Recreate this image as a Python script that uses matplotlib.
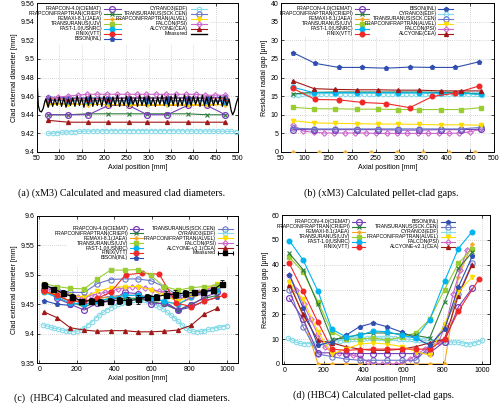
import numpy as np
import matplotlib
matplotlib.use('Agg')
import matplotlib.pyplot as plt
from matplotlib.patches import Rectangle

plt.rcParams['font.family'] = ['Liberation Sans', 'DejaVu Sans']
plt.rcParams['font.size'] = 5

# ---------------- data: (a) xM3 clad diameter ----------------
xa = [75, 120, 165, 210, 255, 297, 342, 387, 430, 472]
a_frapcon = [9.440, 9.440, 9.440, 9.450, 9.450, 9.440, 9.440, 9.450, 9.450, 9.440]
a_criepi = [9.440, 9.440, 9.441, 9.441, 9.441, 9.441, 9.441, 9.441, 9.440, 9.440]
a_femaxi = [9.452, 9.452, 9.451, 9.451, 9.450, 9.450, 9.450, 9.450, 9.450, 9.451]
a_tu_ujv = [9.456, 9.455, 9.455, 9.455, 9.455, 9.455, 9.455, 9.455, 9.455, 9.455]
a_fast = [9.456, 9.455, 9.455, 9.455, 9.455, 9.455, 9.455, 9.455, 9.455, 9.454]
a_finix = [9.457, 9.457, 9.457, 9.457, 9.458, 9.458, 9.458, 9.458, 9.458, 9.458]
a_bison = [9.459, 9.458, 9.458, 9.458, 9.458, 9.458, 9.458, 9.458, 9.458, 9.459]
a_sck = [9.456, 9.456, 9.456, 9.456, 9.456, 9.456, 9.456, 9.456, 9.456, 9.456]
a_alvel = [9.452, 9.452, 9.452, 9.452, 9.452, 9.452, 9.452, 9.452, 9.452, 9.452]
a_alcyone = [9.434, 9.432, 9.432, 9.432, 9.432, 9.432, 9.432, 9.432, 9.432, 9.432]
xa_falcon = [75, 97, 119, 141, 163, 185, 207, 229, 251, 273, 295, 317, 339, 361, 383, 405, 427, 449, 471]
a_falcon = [9.458, 9.459, 9.460, 9.461, 9.462, 9.462, 9.462, 9.462, 9.462, 9.462,
            9.462, 9.462, 9.462, 9.462, 9.462, 9.462, 9.461, 9.461, 9.461]
xa_cyrano = np.arange(75, 500, 10)
a_cyrano = [9.4200, 9.4204, 9.4208, 9.4211, 9.4214, 9.4217, 9.4219, 9.4221, 9.4223, 9.4224,
            9.4225, 9.4226, 9.4227, 9.4228, 9.4228, 9.4229, 9.4229, 9.4229, 9.4229, 9.4229,
            9.4229, 9.4229, 9.4229, 9.4229, 9.4229, 9.4228, 9.4228, 9.4228, 9.4228, 9.4227,
            9.4227, 9.4227, 9.4226, 9.4226, 9.4226, 9.4225, 9.4225, 9.4224, 9.4224, 9.4223,
            9.4222, 9.4221, 9.4220]
xa_meas = [50, 51, 53, 56, 60, 64, 68] + list(range(70, 485, 5)) + [485, 488, 492, 496, 500]
a_meas = ([9.535, 9.470, 9.450, 9.444, 9.443, 9.447, 9.455] +
          [9.457, 9.448, 9.458, 9.449, 9.457, 9.450, 9.459, 9.449, 9.458, 9.448,
           9.457, 9.450, 9.458, 9.449, 9.460, 9.450, 9.458, 9.448, 9.459, 9.450,
           9.461, 9.449, 9.458, 9.450, 9.459, 9.449, 9.460, 9.451, 9.458, 9.449,
           9.459, 9.450, 9.461, 9.449, 9.458, 9.450, 9.460, 9.449, 9.459, 9.451,
           9.458, 9.449, 9.461, 9.450, 9.459, 9.449, 9.460, 9.450, 9.458, 9.449,
           9.459, 9.451, 9.461, 9.450, 9.459, 9.449, 9.460, 9.450, 9.462, 9.449,
           9.458, 9.450, 9.461, 9.449, 9.459, 9.450, 9.460, 9.451, 9.459, 9.449,
           9.461, 9.450, 9.459, 9.449, 9.460, 9.450, 9.458, 9.451, 9.460, 9.449,
           9.459, 9.450, 9.457] +
          [9.444, 9.440, 9.444, 9.452, 9.458])

# ---------------- data: (b) xM3 gap ----------------
xb = [75, 120, 165, 210, 255, 297, 342, 387, 430, 472]
xb9 = [75, 122, 172, 222, 272, 322, 370, 418, 468]
b_bison = [26.7, 23.8, 22.7, 22.7, 22.5, 22.8, 22.7, 22.7, 24.2]
b_finix = [17.1, 14.1, 14.0, 13.3, 13.0, 11.9, 14.9, 15.8, 17.7]
b_alcyone = [19.1, 17.0, 16.8, 16.7, 16.7, 16.6, 16.6, 16.4, 16.4, 16.4]
b_fast = [17.4, 15.9, 15.9, 15.9, 15.9, 15.9, 15.9, 15.8, 15.8, 15.5]
b_criepi = [15.6, 16.0, 16.1, 16.1, 16.1, 16.1, 16.1, 16.0, 16.0, 15.5]
b_tu_ujv = [12.0, 11.6, 11.6, 11.5, 11.5, 11.4, 11.4, 11.4, 11.4, 11.9]
b_alvel = [8.4, 7.8, 7.7, 7.6, 7.5, 7.5, 7.4, 7.3, 7.3, 7.2]
b_frapcon = [6.0, 6.0, 6.0, 6.0, 6.0, 5.9, 5.9, 6.0, 6.0, 6.1]
b_sck = [6.4, 6.2, 6.2, 6.2, 6.2, 6.2, 6.2, 6.2, 6.2, 6.6]
xb_falcon = [75, 97, 119, 141, 163, 185, 207, 229, 251, 273, 295, 317, 339, 361, 383, 405, 427, 449, 471]
b_falcon = [7.3, 5.6, 5.3, 5.1, 5.1, 5.1, 5.1, 5.1, 5.0, 5.0, 5.0, 5.0, 5.0, 5.0, 5.0, 5.0, 5.1, 5.4, 6.1]
xb_femaxi = [75, 130, 185, 240, 295, 350, 405, 460]
b_femaxi = [0, 0, 0, 0, 0, 0, 0, 0]
xb_cyrano = np.arange(75, 480, 10)
b_cyrano = [15.3, 15.4, 15.5, 15.5, 15.6, 15.6, 15.6, 15.7, 15.7, 15.7,
            15.7, 15.7, 15.7, 15.7, 15.7, 15.7, 15.7, 15.7, 15.7, 15.7,
            15.7, 15.7, 15.7, 15.7, 15.7, 15.7, 15.7, 15.7, 15.7, 15.7,
            15.7, 15.7, 15.7, 15.7, 15.6, 15.6, 15.6, 15.6, 15.5, 15.5, 15.4]

# ---------------- data: (c) HBC4 clad diameter ----------------
xc = [25, 95, 165, 240, 310, 380, 455, 525, 595, 665, 740, 810, 880, 950]
c_frapcon = [9.475, 9.460, 9.450, 9.440, 9.452, 9.455, 9.470, 9.468, 9.450, 9.452, 9.440, 9.448, 9.462, 9.470]
c_criepi = [9.470, 9.465, 9.455, 9.445, 9.455, 9.460, 9.460, 9.460, 9.455, 9.450, 9.440, 9.450, 9.460, 9.465]
c_femaxi = [9.470, 9.465, 9.455, 9.455, 9.460, 9.462, 9.465, 9.465, 9.460, 9.455, 9.450, 9.460, 9.470, 9.480]
c_tu_ujv = [9.485, 9.480, 9.477, 9.476, 9.493, 9.508, 9.508, 9.509, 9.499, 9.480, 9.474, 9.478, 9.480, 9.482]
c_fast = [9.470, 9.462, 9.452, 9.450, 9.455, 9.460, 9.465, 9.465, 9.460, 9.455, 9.450, 9.462, 9.470, 9.475]
xc_finix = [25, 95, 165, 240, 310, 380, 460, 550, 640, 730, 810, 880, 985]
c_finix = [9.472, 9.465, 9.455, 9.455, 9.460, 9.470, 9.500, 9.503, 9.501, 9.452, 9.446, 9.455, 9.465]
c_bison = [9.456, 9.450, 9.448, 9.455, 9.460, 9.463, 9.465, 9.465, 9.462, 9.455, 9.440, 9.445, 9.455, 9.462]
c_sck = [9.483, 9.475, 9.470, 9.470, 9.485, 9.492, 9.493, 9.493, 9.490, 9.480, 9.465, 9.465, 9.470, 9.480]
c_alvel = [9.470, 9.468, 9.465, 9.462, 9.472, 9.478, 9.480, 9.480, 9.475, 9.465, 9.455, 9.465, 9.475, 9.485]
c_alcyone = [9.437, 9.427, 9.410, 9.406, 9.404, 9.405, 9.405, 9.403, 9.403, 9.404, 9.406, 9.414, 9.433, 9.443]
xc_falcon = np.arange(25, 960, 36)
c_falcon = [9.478, 9.475, 9.470, 9.467, 9.465, 9.462, 9.462, 9.465, 9.468, 9.470,
            9.472, 9.476, 9.478, 9.480, 9.480, 9.478, 9.475, 9.472, 9.470, 9.465,
            9.460, 9.462, 9.466, 9.470, 9.474, 9.480]
xc_cyrano = np.arange(20, 1020, 20)
c_cyrano = [9.415, 9.413, 9.411, 9.409, 9.408, 9.406, 9.405, 9.404, 9.403, 9.404,
            9.406, 9.410, 9.415, 9.420, 9.426, 9.431, 9.436, 9.440, 9.444, 9.447,
            9.450, 9.452, 9.454, 9.456, 9.457, 9.458, 9.458, 9.457, 9.455, 9.452,
            9.449, 9.446, 9.442, 9.437, 9.432, 9.427, 9.421, 9.415, 9.410, 9.406,
            9.404, 9.403, 9.404, 9.405, 9.407, 9.408, 9.410, 9.411, 9.412, 9.413]
xc_meas = [25, 75, 125, 175, 225, 275, 325, 375, 425, 475, 525, 575, 625, 675, 725, 775, 825, 875, 925, 975]
c_meas = [9.483, 9.476, 9.469, 9.463, 9.455, 9.456, 9.454, 9.456, 9.457, 9.456,
          9.458, 9.463, 9.463, 9.466, 9.467, 9.469, 9.470, 9.471, 9.474, 9.485]
c_meas_err = [0.004, 0.004, 0.005, 0.005, 0.004, 0.005, 0.005, 0.005, 0.006, 0.007,
              0.008, 0.005, 0.005, 0.006, 0.007, 0.006, 0.005, 0.005, 0.005, 0.006]

# ---------------- data: (d) HBC4 gap ----------------
xd = [25, 95, 170, 240, 310, 380, 450, 520, 595, 665, 735, 810, 880, 950]
d_frapcon = [26.5, 18.0, 4.5, 4.5, 4.2, 4.2, 4.2, 4.2, 4.2, 4.2, 4.5, 9.0, 23.0, 30.5]
d_criepi = [44.5, 38.0, 24.0, 10.0, 10.5, 12.0, 12.5, 12.5, 12.0, 11.5, 10.5, 25.0, 38.5, 45.0]
d_femaxi = [33.5, 19.0, 0, 0, 0, 0, 0, 0, 0, 0, 0, 0, 35.0, 48.5]
d_tu_ujv = [43.0, 37.0, 25.0, 13.0, 10.0, 10.0, 10.5, 9.5, 11.0, 12.5, 18.0, 30.0, 40.5, 46.5]
d_fast = [49.7, 41.8, 29.3, 14.0, 11.0, 11.5, 13.3, 13.0, 11.5, 10.5, 17.8, 33.3, 46.5, 53.3]
xd_finix = [25, 95, 170, 240, 310, 380, 450, 520, 595, 665, 735, 810, 880, 985]
d_finix = [40.5, 29.2, 16.8, 6.0, 5.5, 5.8, 6.0, 6.0, 6.0, 6.0, 6.0, 10.0, 21.3, 34.3]
d_bison = [36.0, 22.5, 7.5, 9.0, 11.5, 15.0, 16.5, 15.0, 12.8, 10.5, 7.5, 14.0, 31.0, 43.3]
d_sck = [30.0, 15.0, 4.0, 3.0, 2.0, 1.5, 1.5, 1.5, 1.5, 1.5, 7.0, 15.0, 28.0, 40.7]
d_alvel = [33.0, 26.0, 13.0, 4.0, 6.0, 8.0, 8.5, 8.0, 7.0, 5.0, 3.5, 16.0, 29.0, 35.0]
d_alcyone = [32.0, 20.0, 9.5, 8.5, 7.0, 6.0, 5.5, 5.5, 6.0, 7.0, 8.5, 10.0, 27.5, 40.0]
xd_falcon = np.arange(25, 960, 36)
d_falcon = [36.0, 30.0, 24.0, 18.0, 12.0, 7.0, 4.5, 4.5, 4.0, 3.5, 2.5, 1.0, 0.0, 0.0,
            0.0, 0.0, 0.5, 2.0, 4.0, 6.0, 7.5, 9.0, 16.0, 28.0, 38.0, 46.0]
xd_cyrano = np.arange(20, 1020, 20)
d_cyrano = [10.5, 9.5, 8.7, 8.3, 8.2, 8.2, 8.3, 8.4, 8.5, 8.6,
            8.8, 9.0, 9.2, 9.4, 9.6, 9.8, 9.9, 10.0, 10.1, 10.2,
            10.3, 10.3, 10.4, 10.4, 10.4, 10.4, 10.3, 10.3, 10.2, 10.1,
            10.0, 9.9, 9.8, 9.7, 9.6, 9.5, 9.4, 9.3, 9.2, 9.1,
            9.0, 8.9, 8.8, 8.7, 8.5, 8.2, 8.0, 8.5, 9.0, 9.5]

# ---------------- styles ----------------
ms = 3.2
st = {
    'FRAPCON-4.0(CIEMAT)': dict(color='#7a3db8', marker='o', mfc='none', ms=4.2, mew=0.9),
    'FRAPCON/FRAPTRAN(CRIEPI)': dict(color='#2e7d3a', marker='x', ms=3.5, mew=0.8),
    'FEMAXI-8.1(JAEA)': dict(color='#f5a623', marker='P', ms=2.8, mew=0.3),
    'TRANSURANUS(UJV)': dict(color='#9acd32', marker='s', ms=3.2),
    'FAST-1.0(USNRC)': dict(color='#00b4f0', marker='o', ms=3.3),
    'FINIX(VTT)': dict(color='#f02828', marker='o', ms=3.3),
    'BISON(INL)': dict(color='#2f4fb0', marker='p', ms=3.0),
    'CYRANO3(EDF)': dict(color='#86dbe8', marker='o', mfc='none', ms=3.2, mew=0.8),
    'TRANSURANUS(SCK.CEN)': dict(color='#6a78c8', marker='o', mfc='none', ms=3.8, mew=0.8),
    'FRAPCON/FRAPTRAN(ALVEL)': dict(color='#ffdc00', marker='v', ms=3.0),
    'FALCON(PSI)': dict(color='#cc66cc', marker='D', mfc='none', ms=2.8, mew=0.8),
    'ALCYONE(CEA)': dict(color='#a01818', marker='^', ms=2.8),
    'ALCYONE-v2.1(CEA)': dict(color='#a01818', marker='^', ms=2.8),
}
lw = 0.8


def draw(ax, x, y, name):
    ax.plot(x, y, lw=lw, zorder=3, **st[name])


def legend(ax, entries, xt, x0, x1, y0, dy, box):
    ax.add_patch(Rectangle((box[0], box[1]), box[2] - box[0], box[3] - box[1],
                           transform=ax.transAxes, fc='white', ec='none', zorder=2))
    for i, name in enumerate(entries):
        y = y0 - i * dy
        ax.text(xt, y, name, transform=ax.transAxes, ha='right', va='center',
                fontsize=3.7, zorder=6)
        xm = (x0 + x1) / 2
        if name == 'Measured':
            ax.plot([x0, x1], [y, y], transform=ax.transAxes, color='black', lw=1.0, zorder=6)
        elif name == 'Measured*':
            ax.plot([x0, x1], [y, y], transform=ax.transAxes, color='black', lw=0.8, zorder=6)
            ax.plot([x0, x1], [y, y], transform=ax.transAxes, color='black', ls='none',
                    marker='|', ms=3, mew=0.8, zorder=6)
            ax.plot([xm], [y], transform=ax.transAxes, color='black', marker='s', ms=3.2, zorder=6)
        else:
            ax.plot([x0, xm, x1], [y, y, y], transform=ax.transAxes, lw=lw,
                    markevery=[1], zorder=6, **st[name])


def frame(ax, xlim, ylim, xt, yt, ylabel):
    ax.set_xlim(*xlim)
    ax.set_ylim(*ylim)
    ax.set_xticks(xt)
    ax.set_yticks(yt)
    ax.grid(True, color='#b0b0b0', ls=(0, (1, 2)), lw=0.5, zorder=0)
    ax.tick_params(direction='in', top=True, right=True, length=2.5, width=0.5,
                   labelsize=5, pad=2)
    for s in ax.spines.values():
        s.set_linewidth(0.7)
    ax.set_xlabel('Axial position [mm]', fontsize=5, labelpad=1.5)
    ax.set_ylabel(ylabel, fontsize=5, labelpad=2)


fig = plt.figure(figsize=(5.0, 4.04), dpi=100)
W, H = 500.0, 404.0
def axes_px(l, r, t, b):
    return fig.add_axes([l / W, 1 - b / H, (r - l) / W, (b - t) / H])

ax_a = axes_px(37, 238, 3, 152)
ax_b = axes_px(281, 494, 3, 152)
ax_c = axes_px(37, 238, 216, 363)
ax_d = axes_px(282, 490, 215, 364)

# (a)
frame(ax_a, (50, 500), (9.40, 9.56), range(50, 501, 50), np.arange(9.40, 9.561, 0.02),
      'Clad external diameter [mm]')
ax_a.set_yticklabels(['9.4', '9.42', '9.44', '9.46', '9.48', '9.5', '9.52', '9.54', '9.56'])
draw(ax_a, xa_cyrano, a_cyrano, 'CYRANO3(EDF)')
draw(ax_a, xa, a_alcyone, 'ALCYONE(CEA)')
draw(ax_a, xa, a_criepi, 'FRAPCON/FRAPTRAN(CRIEPI)')
draw(ax_a, xa, a_frapcon, 'FRAPCON-4.0(CIEMAT)')
draw(ax_a, xa, a_femaxi, 'FEMAXI-8.1(JAEA)')
draw(ax_a, xa, a_alvel, 'FRAPCON/FRAPTRAN(ALVEL)')
draw(ax_a, xa, a_tu_ujv, 'TRANSURANUS(UJV)')
draw(ax_a, xa, a_fast, 'FAST-1.0(USNRC)')
draw(ax_a, xa, a_sck, 'TRANSURANUS(SCK.CEN)')
draw(ax_a, xa, a_finix, 'FINIX(VTT)')
draw(ax_a, xa, a_bison, 'BISON(INL)')
draw(ax_a, xa_falcon, a_falcon, 'FALCON(PSI)')
ax_a.plot(xa_meas, a_meas, color='black', lw=0.9, zorder=4)
legend(ax_a, ['FRAPCON-4.0(CIEMAT)', 'FRAPCON/FRAPTRAN(CRIEPI)', 'FEMAXI-8.1(JAEA)',
              'TRANSURANUS(UJV)', 'FAST-1.0(USNRC)', 'FINIX(VTT)', 'BISON(INL)'],
       0.323, 0.333, 0.418, 0.963, 0.0336, (0.0, 0.72, 0.86, 1.0))
legend(ax_a, ['CYRANO3(EDF)', 'TRANSURANUS(SCK.CEN)', 'FRAPCON/FRAPTRAN(ALVEL)',
              'FALCON(PSI)', 'ALCYONE(CEA)', 'Measured'],
       0.751, 0.766, 0.846, 0.963, 0.0336, (0.0, 0.72, 0.0, 0.72))

# (b)
frame(ax_b, (50, 500), (0, 40), range(50, 501, 50), range(0, 41, 5),
      'Residual radial gap [\u03bcm]')
draw(ax_b, xb_femaxi, b_femaxi, 'FEMAXI-8.1(JAEA)')
draw(ax_b, xb_falcon, b_falcon, 'FALCON(PSI)')
draw(ax_b, xb, b_frapcon, 'FRAPCON-4.0(CIEMAT)')
draw(ax_b, xb, b_sck, 'TRANSURANUS(SCK.CEN)')
draw(ax_b, xb, b_alvel, 'FRAPCON/FRAPTRAN(ALVEL)')
draw(ax_b, xb, b_tu_ujv, 'TRANSURANUS(UJV)')
draw(ax_b, xb_cyrano, b_cyrano, 'CYRANO3(EDF)')
draw(ax_b, xb, b_criepi, 'FRAPCON/FRAPTRAN(CRIEPI)')
draw(ax_b, xb, b_fast, 'FAST-1.0(USNRC)')
draw(ax_b, xb9, b_finix, 'FINIX(VTT)')
draw(ax_b, xb, b_alcyone, 'ALCYONE(CEA)')
draw(ax_b, xb9, b_bison, 'BISON(INL)')
legend(ax_b, ['FRAPCON-4.0(CIEMAT)', 'FRAPCON/FRAPTRAN(CRIEPI)', 'FEMAXI-8.1(JAEA)',
              'TRANSURANUS(UJV)', 'FAST-1.0(USNRC)', 'FINIX(VTT)'],
       0.338, 0.347, 0.411, 0.963, 0.0336, (0.0, 0.77, 0.82, 1.0))
legend(ax_b, ['BISON(INL)', 'CYRANO3(EDF)', 'TRANSURANUS(SCK.CEN)',
              'FRAPCON/FRAPTRAN(ALVEL)', 'FALCON(PSI)', 'ALCYONE(CEA)'],
       0.732, 0.739, 0.808, 0.963, 0.0336, (0.0, 0.77, 0.0, 0.77))

# (c)
frame(ax_c, (-12, 1060), (9.35, 9.60), range(0, 1001, 200), np.arange(9.35, 9.601, 0.05),
      'Clad external diameter [mm]')
ax_c.set_yticklabels(['9.35', '9.4', '9.45', '9.5', '9.55', '9.6'])
draw(ax_c, xc_cyrano, c_cyrano, 'CYRANO3(EDF)')
draw(ax_c, xc, c_alcyone, 'ALCYONE-v2.1(CEA)')
draw(ax_c, xc, c_bison, 'BISON(INL)')
draw(ax_c, xc, c_criepi, 'FRAPCON/FRAPTRAN(CRIEPI)')
draw(ax_c, xc, c_frapcon, 'FRAPCON-4.0(CIEMAT)')
draw(ax_c, xc, c_femaxi, 'FEMAXI-8.1(JAEA)')
draw(ax_c, xc, c_fast, 'FAST-1.0(USNRC)')
draw(ax_c, xc_falcon, c_falcon, 'FALCON(PSI)')
draw(ax_c, xc, c_alvel, 'FRAPCON/FRAPTRAN(ALVEL)')
draw(ax_c, xc, c_sck, 'TRANSURANUS(SCK.CEN)')
draw(ax_c, xc_finix, c_finix, 'FINIX(VTT)')
draw(ax_c, xc, c_tu_ujv, 'TRANSURANUS(UJV)')
ax_c.errorbar(xc_meas, c_meas, yerr=c_meas_err, color='black', marker='s', ms=3.6,
              lw=0.8, elinewidth=0.6, capsize=1.5, capthick=0.6, zorder=5)
legend(ax_c, ['FRAPCON-4.0(CIEMAT)', 'FRAPCON/FRAPTRAN(CRIEPI)', 'FEMAXI-8.1(JAEA)',
              'TRANSURANUS(UJV)', 'FAST-1.0(USNRC)', 'FINIX(VTT)', 'BISON(INL)'],
       0.453, 0.463, 0.527, 0.914, 0.033, (0.15, 0.66, 0.99, 0.95))
legend(ax_c, ['TRANSURANUS(SCK.CEN)', 'CYRANO3(EDF)', 'FRAPCON/FRAPTRAN(ALVEL)',
              'FALCON(PSI)', 'ALCYONE-v2.1(CEA)', 'Measured*'],
       0.891, 0.90, 0.975, 0.914, 0.033, (0.0, 0.66, 0.0, 0.66))
ax_c.texts[-1].set_text('Measured')

# (d)
frame(ax_d, (-12, 1040), (0, 60), range(0, 1001, 200), range(0, 61, 10),
      'Residual radial gap [\u03bcm]')
draw(ax_d, xd_cyrano, d_cyrano, 'CYRANO3(EDF)')
draw(ax_d, xd, d_femaxi, 'FEMAXI-8.1(JAEA)')
draw(ax_d, xd_falcon, d_falcon, 'FALCON(PSI)')
draw(ax_d, xd, d_sck, 'TRANSURANUS(SCK.CEN)')
draw(ax_d, xd, d_frapcon, 'FRAPCON-4.0(CIEMAT)')
draw(ax_d, xd, d_alcyone, 'ALCYONE-v2.1(CEA)')
draw(ax_d, xd, d_alvel, 'FRAPCON/FRAPTRAN(ALVEL)')
draw(ax_d, xd_finix, d_finix, 'FINIX(VTT)')
draw(ax_d, xd, d_bison, 'BISON(INL)')
draw(ax_d, xd, d_tu_ujv, 'TRANSURANUS(UJV)')
draw(ax_d, xd, d_criepi, 'FRAPCON/FRAPTRAN(CRIEPI)')
draw(ax_d, xd, d_fast, 'FAST-1.0(USNRC)')
legend(ax_d, ['FRAPCON-4.0(CIEMAT)', 'FRAPCON/FRAPTRAN(CRIEPI)', 'FEMAXI-8.1(JAEA)',
              'TRANSURANUS(UJV)', 'FAST-1.0(USNRC)', 'FINIX(VTT)'],
       0.327, 0.337, 0.40, 0.955, 0.0336, (0.0, 0.77, 0.84, 1.0))
legend(ax_d, ['BISON(INL)', 'TRANSURANUS(SCK.CEN)', 'CYRANO3(EDF)',
              'FRAPCON/FRAPTRAN(ALVEL)', 'FALCON(PSI)', 'ALCYONE-v2.1(CEA)'],
       0.755, 0.764, 0.832, 0.955, 0.0336, (0.0, 0.77, 0.0, 0.77))

# captions
cap = dict(fontsize=7.2, family=['Liberation Serif', 'DejaVu Serif'], ha='center', va='center')
fig.text(122 / W, 1 - 193 / H, '(a) (xM3) Calculated and measured clad diameters.', **cap)
fig.text(381 / W, 1 - 193 / H, '(b) (xM3) Calculated pellet-clad gaps.', **cap)
fig.text(122 / W, 1 - 398 / H, '(c)  (HBC4) Calculated and measured clad diameters.', **cap)
fig.text(374 / W, 1 - 395 / H, '(d) (HBC4) Calculated pellet-clad gaps.', **cap)

fig.savefig('out.png', dpi=100)
